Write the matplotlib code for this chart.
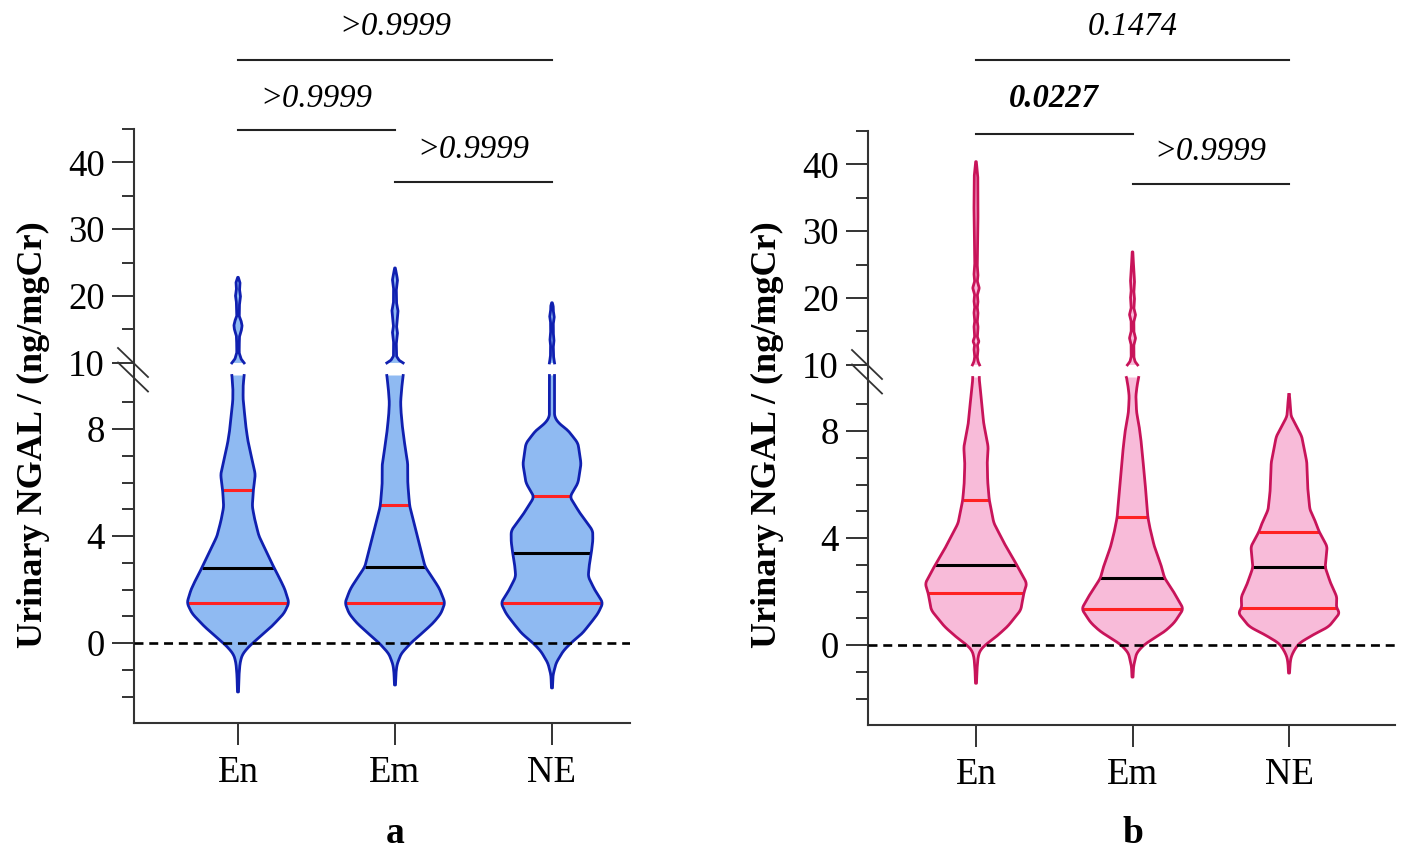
import numpy as np
import matplotlib
matplotlib.use("Agg")
import matplotlib.pyplot as plt
from matplotlib.lines import Line2D
import matplotlib.transforms as mtransforms

plt.rcParams['font.family'] = ['Liberation Serif', 'DejaVu Serif']

# ---------------- data ----------------
groups = ['En', 'Em', 'NE']
panel_letters = ['a', 'b']
ylabel = 'Urinary NGAL / (ng/mgCr)'

# quartiles (Q1, median, Q3)
a_quart = [(1.50, 2.80, 5.72), (1.50, 2.85, 5.16), (1.50, 3.36, 5.50)]
b_quart = [(1.94, 3.00, 5.43), (1.35, 2.50, 4.80), (1.39, 2.90, 4.24)]

# violin density profiles (relative density, 1 = widest) -- lower segment (<=10)
a_en_y = [-1.83, -1.2, -0.75, -0.45, -0.2, 0, 0.3, 0.6, 1.1, 1.5, 2.0, 2.4, 2.8, 3.2, 3.6, 4.0, 4.6, 5.1, 5.7, 6.3, 6.9, 7.5, 8.0, 9.1, 9.6, 10.0]
a_en_d = [0.01, 0.02, 0.04, 0.08, 0.18, 0.29, 0.47, 0.65, 0.90, 1.00, 0.92, 0.82, 0.71, 0.61, 0.51, 0.41, 0.33, 0.28, 0.30, 0.34, 0.27, 0.20, 0.16, 0.10, 0.10, 0.12]
a_em_y = [-1.57, -1.1, -0.8, -0.4, 0, 0.4, 0.75, 1.1, 1.5, 2.0, 2.25, 2.85, 3.0, 3.6, 4.2, 4.5, 5.1, 5.5, 6.0, 6.7, 7.3, 8.0, 8.6, 9.0, 9.5, 10.0]
a_em_d = [0.01, 0.02, 0.04, 0.12, 0.31, 0.55, 0.75, 0.90, 0.98, 0.88, 0.80, 0.59, 0.57, 0.49, 0.41, 0.37, 0.29, 0.27, 0.25, 0.25, 0.20, 0.15, 0.12, 0.11, 0.13, 0.16]
a_ne_y = [-1.68, -1.2, -0.75, -0.3, 0, 0.35, 0.75, 1.1, 1.5, 1.98, 2.48, 2.9, 3.36, 3.8, 4.2, 4.85, 5.46, 5.98, 6.7, 7.47, 7.96, 8.2, 8.45, 9.0, 10.0]
a_ne_d = [0.01, 0.02, 0.08, 0.22, 0.37, 0.59, 0.76, 0.90, 1.00, 0.84, 0.71, 0.73, 0.77, 0.80, 0.80, 0.55, 0.35, 0.51, 0.57, 0.51, 0.31, 0.14, 0.05, 0.05, 0.05]

b_en_y = [-1.43, -0.9, -0.45, -0.2, 0, 0.3, 0.69, 1.3, 1.94, 2.3, 3.0, 3.68, 4.56, 5.43, 6.1, 6.8, 7.4, 8.3, 9.3, 9.9, 10.0]
b_en_d = [0.01, 0.02, 0.04, 0.08, 0.18, 0.39, 0.62, 0.88, 0.94, 1.00, 0.80, 0.59, 0.35, 0.26, 0.23, 0.22, 0.24, 0.15, 0.10, 0.065, 0.065]
b_em_y = [-1.2, -0.8, -0.3, 0, 0.19, 0.5, 0.83, 1.35, 1.95, 2.5, 2.93, 3.68, 4.3, 4.8, 5.55, 6.2, 6.8, 7.43, 8.06, 8.7, 9.3, 9.7, 10.0]
b_em_d = [0.01, 0.02, 0.08, 0.22, 0.37, 0.63, 0.82, 1.00, 0.82, 0.63, 0.57, 0.43, 0.35, 0.30, 0.27, 0.24, 0.21, 0.18, 0.14, 0.08, 0.065, 0.09, 0.12]
b_ne_y = [-1.05, -0.7, -0.45, -0.2, 0.07, 0.4, 0.68, 1.2, 1.39, 1.8, 2.3, 2.9, 3.68, 4.24, 4.56, 5.06, 5.8, 6.83, 7.8, 8.55, 9.0, 9.36]
b_ne_d = [0.01, 0.02, 0.04, 0.10, 0.20, 0.49, 0.78, 1.00, 0.93, 0.94, 0.82, 0.71, 0.75, 0.59, 0.53, 0.41, 0.37, 0.35, 0.25, 0.04, 0.024, 0.006]

# upper segment (>10)
a_en_uy = [10.0, 10.6, 11.5, 12.5, 14.0, 15.0, 15.6, 16.3, 17.0, 19.0, 20.0, 21.0, 22.0, 22.8]
a_en_ud = [0.12, 0.06, 0.024, 0.024, 0.03, 0.07, 0.08, 0.06, 0.024, 0.03, 0.05, 0.03, 0.04, 0.006]
a_em_uy = [10.0, 10.4, 11.0, 13.0, 14.5, 15.5, 17.0, 17.8, 19.0, 21.0, 22.4, 23.3, 24.2]
a_em_ud = [0.16, 0.08, 0.03, 0.026, 0.05, 0.03, 0.05, 0.06, 0.03, 0.026, 0.05, 0.03, 0.006]
a_ne_uy = [10.0, 11.0, 12.5, 13.4, 14.5, 16.0, 16.9, 17.8, 18.5, 19.0]
a_ne_ud = [0.05, 0.03, 0.026, 0.04, 0.026, 0.026, 0.045, 0.026, 0.024, 0.006]
b_en_uy = [10.0, 10.5, 11.2, 12.3, 13.0, 13.5, 14.2, 15.7, 16.5, 17.8, 18.6, 19.5, 20.5, 21.5, 22.5, 23.5, 25.0, 32.8, 38.2, 40.4]
b_en_ud = [0.07, 0.04, 0.024, 0.04, 0.026, 0.06, 0.026, 0.04, 0.024, 0.04, 0.024, 0.04, 0.026, 0.065, 0.026, 0.04, 0.024, 0.04, 0.035, 0.006]
b_em_uy = [10.0, 10.5, 11.2, 13.0, 14.0, 15.0, 16.5, 17.5, 18.5, 20.0, 21.0, 22.5, 24.0, 26.9]
b_em_ud = [0.10, 0.05, 0.026, 0.026, 0.06, 0.026, 0.026, 0.06, 0.026, 0.04, 0.026, 0.04, 0.026, 0.006]

a_lower = [(a_en_y, a_en_d), (a_em_y, a_em_d), (a_ne_y, a_ne_d)]
a_upper = [(a_en_uy, a_en_ud), (a_em_uy, a_em_ud), (a_ne_uy, a_ne_ud)]
b_lower = [(b_en_y, b_en_d), (b_em_y, b_em_d), (b_ne_y, b_ne_d)]
b_upper = [(b_en_uy, b_en_ud), (b_em_uy, b_em_ud), None]

# significance annotations: (i, j, text, bold)
a_sig = [(0, 2, '>0.9999', False), (0, 1, '>0.9999', False), (1, 2, '>0.9999', False)]
b_sig = [(0, 2, '0.1474', False), (0, 1, '0.0227', True), (1, 2, '>0.9999', False)]

# ---------------- style / layout ----------------
W, H = 1406, 850
fig = plt.figure(figsize=(W / 100, H / 100), dpi=100)

GAP, R = 0.47, 0.25


def fwd(y):
    y = np.asarray(y, dtype=float)
    return np.where(y <= 10, y, 10 + GAP + (y - 10) * R)


def inv(u):
    u = np.asarray(u, dtype=float)
    return np.where(u <= 10, u, np.where(u < 10 + GAP, 10.0, 10 + (u - 10 - GAP) / R))


def smooth_outline(ys, hw, n=400, k=9):
    """Render a smoother outline through the read-off profile points."""
    ys = np.asarray(ys, float)
    hw = np.asarray(hw, float)
    yy = np.linspace(ys[0], ys[-1], n)
    hh = np.interp(yy, ys, hw)
    ker = np.ones(k) / k
    pad = np.concatenate([np.full(k // 2, hh[0]), hh, np.full(k // 2, hh[-1])])
    hs = np.convolve(pad, ker, mode='valid')
    hs[0], hs[-1] = hw[0], hw[-1]
    return yy, hs


PPU = 26.75
HW = 0.325
spine_c = '#333333'

panels = [
    dict(left=134, right=630, y0=643, xlo=0.3376, xhi=3.497, fill='#8FBAF2', edge='#1020B0',
         lower=a_lower, upper=a_upper, quart=a_quart, sig=a_sig,
         lines_y=[60, 130, 182], text_y=[35, 107, 158], label_x=33, letter='a'),
    dict(left=868, right=1395, y0=645, xlo=0.31, xhi=3.677, fill='#F8BBD9', edge='#C8145A',
         lower=b_lower, upper=b_upper, quart=b_quart, sig=b_sig,
         lines_y=[60, 134, 184], text_y=[35, 107, 160], label_x=767, letter='b'),
]

for p in panels:
    bottom_px = p['y0'] + 3 * PPU
    top_px = p['y0'] - float(fwd(45)) * PPU
    ax = fig.add_axes([p['left'] / W, 1 - bottom_px / H, (p['right'] - p['left']) / W,
                       (bottom_px - top_px) / H])
    ax.set_yscale('function', functions=(fwd, inv))
    ax.set_ylim(-3, 45)
    ax.set_xlim(p['xlo'], p['xhi'])
    for s in ['top', 'right']:
        ax.spines[s].set_visible(False)
    for s in ['left', 'bottom']:
        ax.spines[s].set_color(spine_c)
        ax.spines[s].set_linewidth(1.5)

    ax.set_yticks([0, 4, 8, 10.0001, 20, 30, 40])
    ax.set_yticklabels(['0', '4', '8', '10', '20', '30', '40'])
    ax.set_yticks([-2, -1, 1, 2, 3, 5, 6, 7, 9, 15, 25, 35, 45], minor=True)
    ax.tick_params(axis='y', which='major', length=16, width=1.4, color=spine_c,
                   labelsize=26.5, pad=5)
    ax.tick_params(axis='y', which='minor', length=8.5, width=1.4, color=spine_c)
    ax.set_xticks([1, 2, 3])
    ax.set_xticklabels(groups)
    ax.tick_params(axis='x', which='major', length=16, width=1.4, color=spine_c,
                   labelsize=26.5, pad=7)
    ax.tick_params(axis='x', which='minor', bottom=False)

    for k in range(3):
        x = k + 1
        ys0, ds = p['lower'][k]
        ys, hw = smooth_outline(ys0, np.asarray(ds) * HW)
        ax.fill_betweenx(ys, x - hw, x + hw, facecolor=p['fill'], edgecolor='none', lw=0, zorder=2)
        q1, med, q3 = p['quart'][k]
        for q, c in [(q1, '#FF2222'), (med, 'black'), (q3, '#FF2222')]:
            w = np.interp(q, ys, hw)
            ax.plot([x - w, x + w], [q, q], color=c, lw=2.2, zorder=3, solid_capstyle='butt')
        ax.plot(np.concatenate([(x - hw)[::-1], x + hw]), np.concatenate([ys[::-1], ys]),
                color=p['edge'], lw=2.0, zorder=4)
        if p['upper'][k] is not None:
            uy0, ud = p['upper'][k]
            uy, uhw = smooth_outline(np.asarray(uy0) + 1e-4, np.asarray(ud) * HW, k=5)
            ax.fill_betweenx(uy, x - uhw, x + uhw, facecolor=p['fill'], edgecolor='none', lw=0, zorder=2)
            ax.plot(np.concatenate([x - uhw, (x + uhw)[::-1]]), np.concatenate([uy, uy[::-1]]),
                    color=p['edge'], lw=2.0, zorder=4)

    ax.axhline(0, color='black', lw=1.9, ls=(0, (3.4, 2.2)), zorder=5)

    # significance brackets
    trans = mtransforms.blended_transform_factory(ax.transData, fig.transFigure)
    for (i, j, txt, bold), ly, ty in zip(p['sig'], p['lines_y'], p['text_y']):
        ax.plot([i + 1, j + 1], [1 - ly / H, 1 - ly / H], transform=trans, color='#222222',
                lw=1.5, clip_on=False)
        ax.text((i + j + 2) / 2, 1 - ty / H, txt, transform=trans, ha='center', va='baseline',
                fontsize=23.5, style='italic', fontweight='bold' if bold else 'normal')

    # axis break marks
    for dy in (0, 14.5):
        fig.add_artist(Line2D([(p['left'] - 16) / W, (p['left'] + 14) / W],
                              [1 - (p['y0'] - 295 + dy) / H, 1 - (p['y0'] - 266 + dy) / H],
                              transform=fig.transFigure, color=spine_c, lw=1.3))

    fig.text(p['label_x'] / W, 1 - 435 / H, ylabel, rotation=90, ha='center', va='center',
             fontsize=26, fontweight='bold')
    xmid = p['left'] + (2 - p['xlo']) / (p['xhi'] - p['xlo']) * (p['right'] - p['left'])
    fig.text(xmid / W, 1 - 843 / H, p['letter'], ha='center', va='baseline',
             fontsize=27, fontweight='bold')

fig.savefig('out.png', dpi=100, facecolor='white')
